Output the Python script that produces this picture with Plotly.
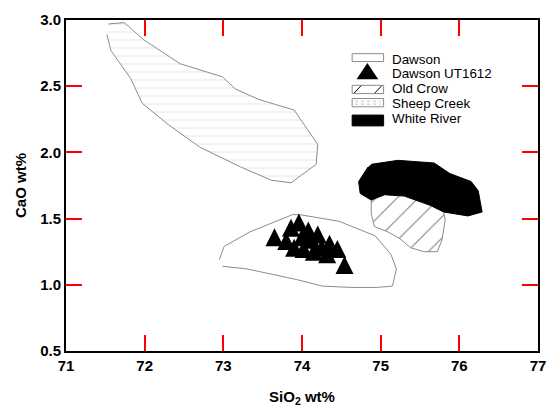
import plotly.graph_objects as go

# Compositional envelopes, SiO2 vs CaO (wt%)
sheep_sio2 = [71.54, 71.74, 71.99, 72.45, 72.99, 73.15, 73.45, 73.90, 74.20, 74.18,
              73.86, 73.61, 73.22, 72.70, 72.30, 71.97, 71.82, 71.57, 71.52]
sheep_cao = [2.97, 2.98, 2.85, 2.67, 2.57, 2.48, 2.40, 2.32, 2.06, 1.91,
             1.77, 1.79, 1.89, 2.04, 2.21, 2.37, 2.56, 2.77, 2.89]

dawson_sio2 = [72.95, 73.01, 73.34, 73.88, 73.97, 74.47, 74.93, 75.13, 75.20, 75.15,
               74.95, 74.63, 74.26, 73.93, 73.30, 72.99]
dawson_cao = [1.19, 1.29, 1.40, 1.53, 1.53, 1.48, 1.37, 1.23, 1.12, 0.99,
              0.98, 0.98, 0.99, 1.04, 1.12, 1.14]

oldcrow_sio2 = [74.88, 74.88, 74.92, 75.09, 75.24, 75.38, 75.55, 75.72, 75.78, 75.82,
                75.80, 75.68, 75.24, 74.93]
oldcrow_cao = [1.64, 1.54, 1.44, 1.40, 1.35, 1.28, 1.25, 1.25, 1.34, 1.49,
               1.55, 1.68, 1.73, 1.70]

whiteriver_sio2 = [74.88, 75.22, 75.68, 75.88, 76.15, 76.24, 76.29, 76.11, 75.80, 75.63,
                   75.30, 75.05, 74.88, 74.74, 74.72, 74.84]
whiteriver_cao = [1.91, 1.94, 1.92, 1.84, 1.78, 1.71, 1.55, 1.52, 1.55, 1.60,
                  1.67, 1.68, 1.64, 1.69, 1.78, 1.89]

# Individual glass analyses, sample UT1612
ut1612_sio2 = [73.65, 73.80, 73.86, 73.96, 73.90, 74.02, 74.08, 74.12,
               74.20, 74.25, 74.35, 74.32, 74.45, 74.54, 74.15, 74.00]
ut1612_cao = [1.36, 1.33, 1.43, 1.47, 1.28, 1.27, 1.41, 1.34,
              1.38, 1.28, 1.31, 1.23, 1.27, 1.15, 1.25, 1.36]

legend_labels = ["Dawson", "Dawson UT1612", "Old Crow", "Sheep Creek", "White River"]

x_ticks = [71, 72, 73, 74, 75, 76, 77]
y_ticks = [0.5, 1.0, 1.5, 2.0, 2.5, 3.0]
X_RANGE = [71, 77]
Y_RANGE = [0.5, 3.0]

FONT = "Liberation Sans, Arial, sans-serif"
OUTLINE = "#8c8c8c"
TICK_LEN = 16

# figure / plot-area geometry (px)
W, H = 557, 414
ML, MR, MT, MB = 66, 11, 17, 61
PW, PH = W - ML - MR, H - MT - MB


def px(xp):
    return (xp - ML) / PW


def py(yp):
    return 1 - (yp - MT) / PH


fig = go.Figure()

fig.add_trace(go.Scatter(
    x=sheep_sio2, y=sheep_cao, name=legend_labels[3],
    mode="lines", fill="toself", line=dict(color=OUTLINE, width=1),
    fillcolor="white",
    fillpattern=dict(shape="-", fgcolor="#c8c8c8", bgcolor="white", size=8, solidity=0.12),
))
fig.add_trace(go.Scatter(
    x=dawson_sio2, y=dawson_cao, name=legend_labels[0],
    mode="lines", fill="toself", line=dict(color=OUTLINE, width=1),
    fillcolor="white",
))
fig.add_trace(go.Scatter(
    x=oldcrow_sio2, y=oldcrow_cao, name=legend_labels[2],
    mode="lines", fill="toself", line=dict(color=OUTLINE, width=1),
    fillcolor="white",
    fillpattern=dict(shape="/", fgcolor="black", bgcolor="white", size=15, solidity=0.07),
))
fig.add_trace(go.Scatter(
    x=whiteriver_sio2, y=whiteriver_cao, name=legend_labels[4],
    mode="lines", fill="toself", line=dict(color="black", width=1),
    fillcolor="black",
))
# upright triangles centred on each analysis
fig.add_trace(go.Scatter(
    x=ut1612_sio2, y=ut1612_cao, name=legend_labels[1],
    mode="markers",
    marker=dict(symbol="arrow-down", angle=180, standoff=9, size=18, color="black",
                line=dict(width=0)),
))

shapes = []

# ---- key (drawn as shapes + text so rows sit 15 px apart) ----
KEY_X0, KEY_X1, TEXT_X = 357, 389, 397
row_y = [56.7, 71.7, 86.7, 101.7, 116.7]
box_half = [4.0, 0, 4.2, 4.2, 5.5]
box_off = [-1.5, 0, 0.8, -0.8, 2.3]

for i, lab in enumerate(legend_labels):
    fig.add_annotation(
        x=px(TEXT_X), y=py(row_y[i]), xref="paper", yref="paper",
        text=lab, showarrow=False, xanchor="left", yanchor="middle",
        font=dict(family=FONT, size=13.4, color="black"), borderpad=0,
    )
    if i == 1:
        cx, cy = (KEY_X0 + KEY_X1) / 2 - 0.5, row_y[i] - 2.5
        shapes.append(dict(
            type="path", xref="paper", yref="paper",
            path=f"M {px(cx - 11)},{py(cy + 8)} L {px(cx + 11)},{py(cy + 8)} L {px(cx)},{py(cy - 8.5)} Z",
            fillcolor="black", line=dict(width=0),
        ))
        continue
    yc = row_y[i] + box_off[i]
    y0, y1 = yc - box_half[i], yc + box_half[i]
    fill = "black" if i == 4 else "white"
    edge = "black" if i == 4 else OUTLINE
    shapes.append(dict(
        type="rect", xref="paper", yref="paper",
        x0=px(KEY_X0), x1=px(KEY_X1), y0=py(y1), y1=py(y0),
        fillcolor=fill, line=dict(color=edge, width=1),
    ))
    if i == 2:
        for xs in (KEY_X0 + 2, KEY_X0 + 23):
            shapes.append(dict(
                type="line", xref="paper", yref="paper",
                x0=px(xs), y0=py(y1 - 0.5), x1=px(xs + 7), y1=py(y0 + 0.5),
                line=dict(color="black", width=1),
            ))
    if i == 3:
        for yy in (yc - 1.5, yc + 1.5):
            shapes.append(dict(
                type="line", xref="paper", yref="paper",
                x0=px(KEY_X0 + 3), y0=py(yy), x1=px(KEY_X1 - 3), y1=py(yy),
                line=dict(color="#bdbdbd", width=1, dash="dot"),
            ))

TICK_FONT = dict(family=FONT, size=15, color="black", weight="bold")
TITLE_FONT = dict(family=FONT, size=15, color="black", weight="bold")

axis_common = dict(
    ticks="inside", ticklen=TICK_LEN, tickwidth=2, tickcolor="red",
    showline=True, linecolor="black", linewidth=2, mirror="ticks",
    showgrid=False, zeroline=False, tickfont=TICK_FONT,
)

fig.update_xaxes(
    range=X_RANGE, tickvals=x_ticks, ticktext=[str(v) for v in x_ticks],
    title=dict(text="SiO<sub>2</sub> wt%", font=TITLE_FONT, standoff=18),
    **axis_common,
)
fig.update_yaxes(
    range=Y_RANGE, tickvals=y_ticks, ticktext=[f"{v:.1f}" for v in y_ticks],
    title=dict(text="CaO wt%", font=TITLE_FONT, standoff=10),
    **axis_common,
)

fig.update_layout(
    width=W, height=H,
    margin=dict(l=ML, r=MR, t=MT, b=MB),
    paper_bgcolor="white", plot_bgcolor="white",
    showlegend=False,
    shapes=shapes,
)

fig.write_html("out.html")
